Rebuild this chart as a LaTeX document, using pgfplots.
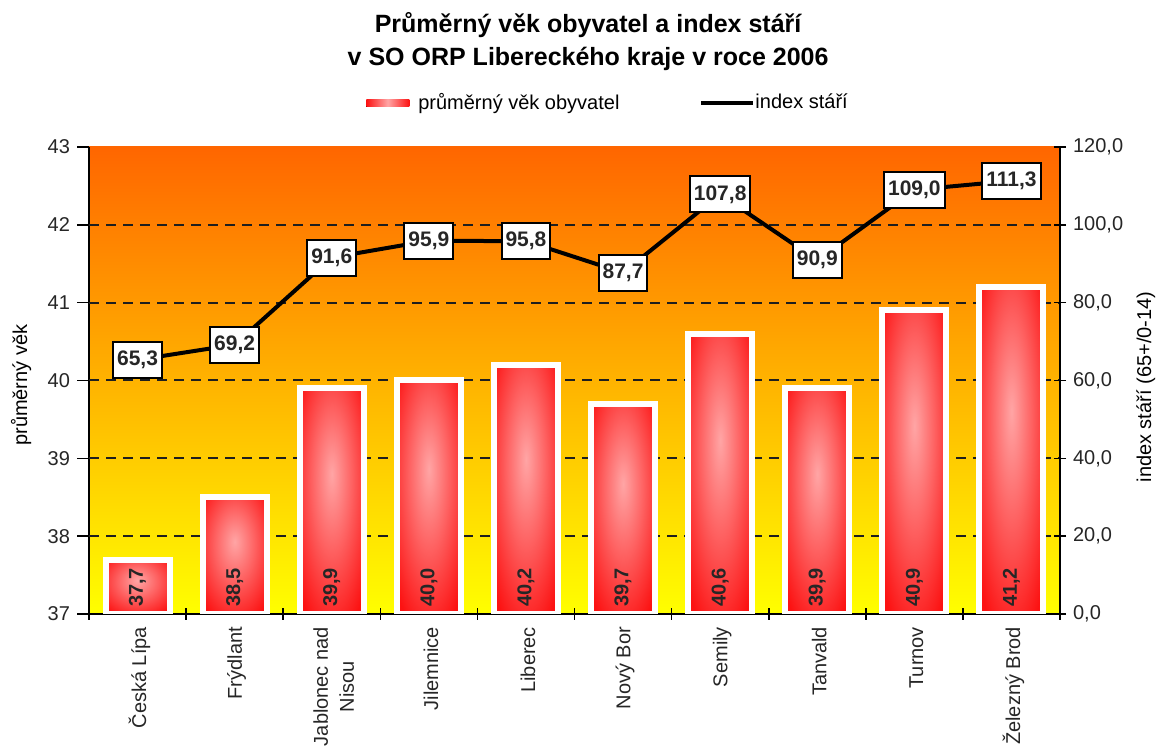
\documentclass[border=0pt]{standalone}
\usepackage{fontspec}
\setmainfont{Liberation Sans}
\usepackage{pgfplots}
\usepackage{pgfplotstable}
\pgfplotsset{compat=1.18}
\definecolor{bgtop}{RGB}{255,102,0}
\definecolor{bgbot}{RGB}{255,255,0}
\definecolor{baredge}{RGB}{252,18,18}
\definecolor{barmid}{RGB}{255,165,165}
\definecolor{gridc}{RGB}{30,30,30}
\pgfdeclareradialshading{barshade}{\pgfpoint{0bp}{6bp}}{color(0bp)=(barmid); color(34bp)=(baredge); color(70bp)=(baredge)}

\pgfplotstableread{
x age idx
0 37.7 65.3
1 38.5 69.2
2 39.9 91.6
3 40.0 95.9
4 40.2 95.8
5 39.7 87.7
6 40.6 107.8
7 39.9 90.9
8 40.9 109.0
9 41.2 111.3
}\data

\begin{document}
\begin{tikzpicture}
\useasboundingbox (0,0) rectangle (578.5pt,374.5pt);
\pgfplotsset{
  common/.style={
    at={(44.5pt,67.5pt)}, anchor=south west,
    scale only axis, width=485.5pt, height=233.5pt,
    xmin=-0.5, xmax=9.5,
    /pgf/number format/assume math mode=true,
    tick style={black, line width=0.8pt},
    axis line style={black, line width=0.8pt},
    tick label style={font=\fontsize{10}{12}\selectfont, text=black!85},
    label style={font=\fontsize{10}{12}\selectfont, text=black!85},
  }
}
\begin{axis}[common,
  ymin=37, ymax=43,
  axis x line*=bottom, axis y line*=left,
  axis background/.style={top color=bgtop, bottom color=bgbot},
  xtick={-0.5,0.5,...,9.5},
  x tick label as interval,
  xticklabels={Česká Lípa, Frýdlant, {Jablonec nad\\Nisou}, Jilemnice, Liberec, Nový Bor, Semily, Tanvald, Turnov, Železný Brod},
  xticklabel style={rotate=90, anchor=east, align=center, font=\fontsize{10}{13}\selectfont, yshift=-1pt},
  xtick align=center, major tick length=6pt,
  ytick={37,...,43},
  ytick align=outside,
  extra y ticks={38,...,42}, extra y tick labels={},
  extra y tick style={ymajorgrids=true, major tick length=0pt},
  grid style={gridc, line width=1pt, dash pattern=on 5pt off 3.5pt},
  ylabel={průměrný věk},
  every axis y label/.style={at={(axis description cs:-0.07,0.49)}, rotate=90, anchor=center},
]
\pgfplotsinvokeforeach{0,...,9}{
\addplot[ybar, bar width=32pt, bar shift=0pt, draw=white, line width=3pt,
  shade, shading=barshade,
  restrict x to domain=#1:#1]
  table[x=x, y=age] {\data};
}
\addplot[draw=none, mark=none, point meta=explicit,
  nodes near coords={\pgfmathprintnumber[fixed,fixed zerofill,precision=1,use comma]{\pgfplotspointmeta}},
  every node near coord/.append style={rotate=90, anchor=west, font=\bfseries\fontsize{10}{12}\selectfont, text=black!85}]
  table[x=x, y expr=37, meta=age] {\data};
\end{axis}
\begin{axis}[common,
  ymin=0, ymax=120,
  axis x line=none, axis y line*=right,
  ytick={0,20,...,120},
  yticklabel style={/pgf/number format/.cd, fixed, fixed zerofill, precision=1, use comma},
  ytick align=center, major tick length=6pt,
  ylabel={index stáří (65+/0-14)},
  every axis y label/.style={at={(axis description cs:1.0885,0.486)}, rotate=90, anchor=center},
  title={Průměrný věk obyvatel a index stáří\\v SO ORP Libereckého kraje v roce 2006},
  title style={at={(axis description cs:0.514,1.2323)}, anchor=center, align=center, yshift=-7.5pt, font=\bfseries\fontsize{12.5}{16.5}\selectfont},
  legend columns=2,
  legend style={at={(axis description cs:0.5335,1.094)}, anchor=center, draw=none, fill=none, font=\fontsize{10}{12}\selectfont, nodes={inner xsep=0pt}, /tikz/every even column/.append style={column sep=40pt}},
  clip=false,
]
\addlegendimage{legend image code/.code={\fill[draw=none, left color=baredge, right color=baredge, middle color=barmid] (0pt,-1.75pt) rectangle (21.5pt,1.75pt); \path[draw=none, fill=none] (0pt,0pt) -- (26pt,0pt);}}
\addlegendentry{průměrný věk obyvatel}
\addplot[black, line width=2pt, mark=none, point meta=explicit,
  nodes near coords={\pgfmathprintnumber[fixed,fixed zerofill,precision=1,use comma]{\pgfplotspointmeta}},
  every node near coord/.append style={anchor=center, fill=white, draw=black, line width=1pt, inner xsep=2pt, minimum height=18pt, font=\bfseries\fontsize{10.5}{12}\selectfont, text=black!85},
  legend image code/.code={\draw[black, line width=2pt] (0pt,0pt) -- (26pt,0pt);}]
  table[x=x, y=idx, meta=idx] {\data};
\addlegendentry{index stáří}
\end{axis}
\end{tikzpicture}
\end{document}
